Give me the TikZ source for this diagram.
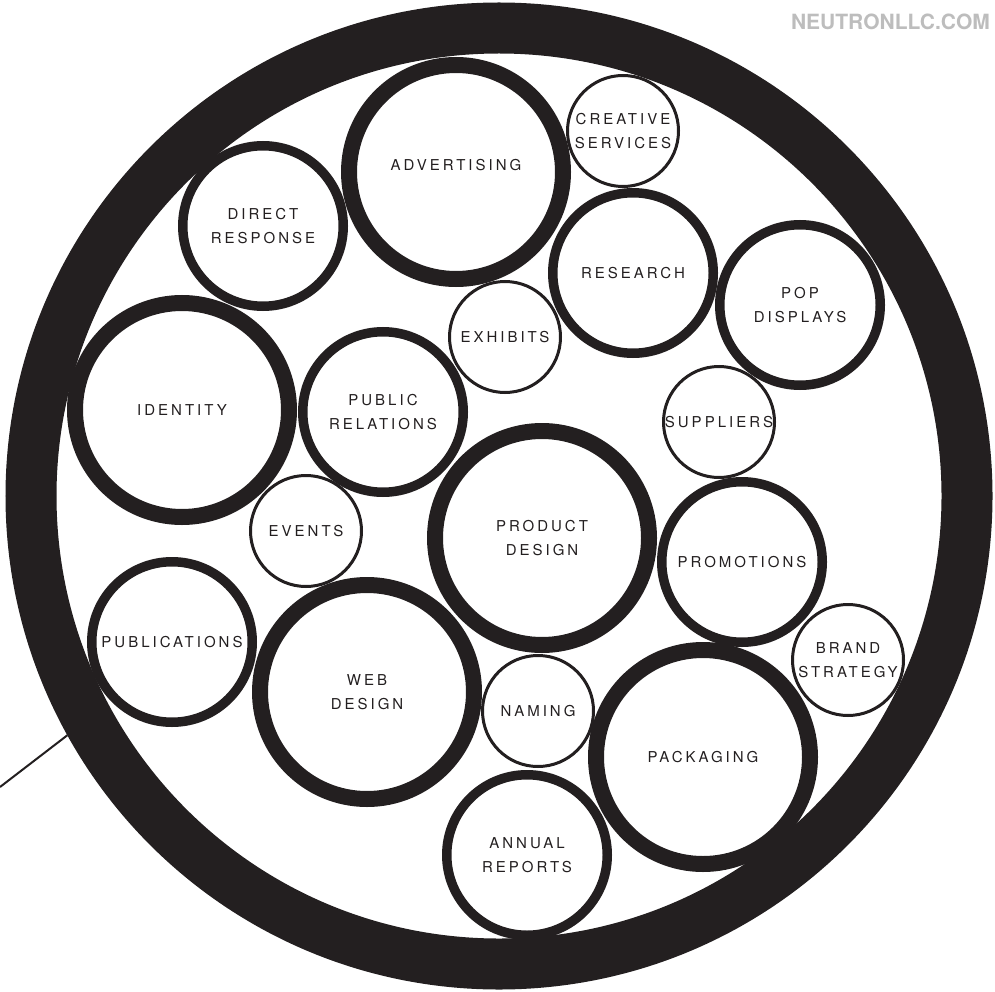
\documentclass[tikz,border=0pt]{standalone}
\usepackage{fontspec}
\setmainfont{TeX Gyre Heros}
\newfontfamily\bubfont[LetterSpace=20]{TeX Gyre Heros}
\definecolor{ink}{HTML}{231F20}
\definecolor{webgray}{HTML}{BDBDBD}

\begin{document}
\begin{tikzpicture}[x=1pt,y=-1pt,
  bub/.style={circle,draw=ink,inner sep=0pt,align=center,text=ink,
    font=\bubfont\fontsize{15}{24}\selectfont},
  bigbub/.style={bub,line width=16pt,minimum size=214pt},
  midbub/.style={bub,line width=9.5pt,minimum size=160.5pt},
  smallbub/.style={bub,line width=3pt,minimum size=111pt}]
\useasboundingbox (0,0) rectangle (995,992);
% ---------- outer ring ----------
\node[circle,draw=ink,line width=51pt,minimum size=936pt,inner sep=0pt] (ring) at (499,496) {};
\coordinate (tail) at (0,787);
\draw[ink,line width=2pt] (ring.209.5) -- (tail);
\node[anchor=base east,inner sep=0pt,text=webgray,
  font=\bfseries\fontsize{21}{21}\selectfont] (site) at (990,30) {NEUTRONLLC.COM};
% ---------- large bubbles ----------
\node[bigbub,text depth=14pt] (adv) at (456,172) {ADVERTISING};
\node[bigbub] (ident) at (182,410) {IDENTITY};
\node[bigbub] (prod) at (542,538) {PRODUCT\\DESIGN};
\node[bigbub] (web) at (367,692) {WEB\\DESIGN};
\node[bigbub] (pack) at (703,757) {PACKAGING};
% ---------- medium bubbles ----------
\node[midbub] (direct) at (263,226) {DIRECT\\RESPONSE};
\node[midbub] (research) at (633,273) {RESEARCH};
\node[midbub] (pop) at (800,305) {POP\\DISPLAYS};
\node[midbub] (pr) at (383,412) {PUBLIC\\RELATIONS};
\node[midbub] (promo) at (742,562) {PROMOTIONS};
\node[midbub] (pub) at (172,642) {PUBLICATIONS};
\node[midbub] (annual) at (527,855) {ANNUAL\\REPORTS};
% ---------- small bubbles ----------
\node[smallbub] (creative) at (623,131) {CREATIVE\\SERVICES};
\node[smallbub] (exhibits) at (505,337) {EXHIBITS};
\node[smallbub] (suppliers) at (719,422) {SUPPLIERS};
\node[smallbub] (events) at (306,531) {EVENTS};
\node[smallbub] (brand) at (848,660) {BRAND\\STRATEGY};
\node[smallbub] (naming) at (538,711) {NAMING};
\end{tikzpicture}
\end{document}
